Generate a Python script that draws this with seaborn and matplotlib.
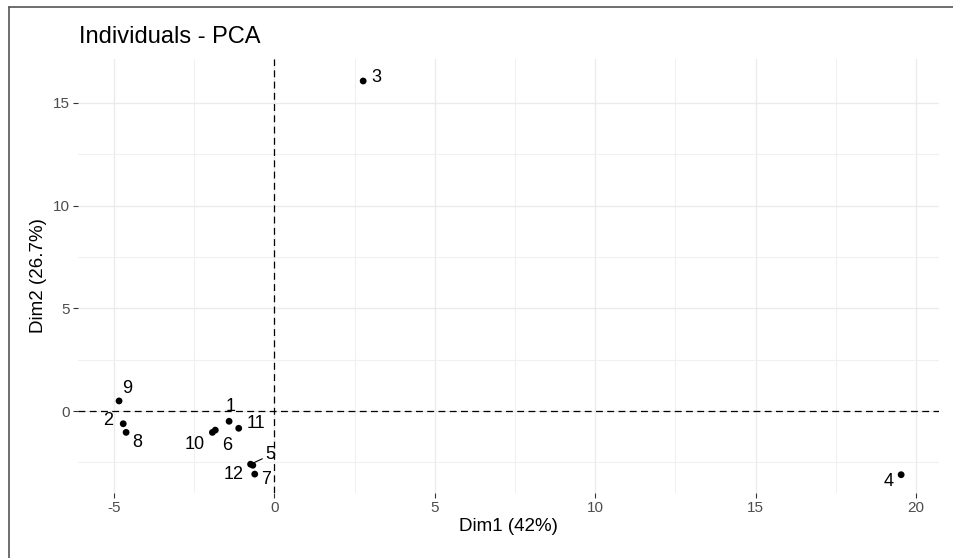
import matplotlib
matplotlib.use("Agg")
import matplotlib.pyplot as plt
from matplotlib.lines import Line2D
import seaborn as sns
import pandas as pd

labels = ["1", "2", "3", "4", "5", "6", "7", "8", "9", "10", "11", "12"]
dim1 = [-1.41, -4.71, 2.77, 19.54, -0.74, -1.84, -0.61, -4.62, -4.84, -1.93, -1.11, -0.67]
dim2 = [-0.50, -0.62, 16.06, -3.10, -2.59, -0.93, -3.07, -1.04, 0.49, -1.04, -0.84, -2.64]
x_ticks = [-5, 0, 5, 10, 15, 20]
y_ticks = [0, 5, 10, 15]
# label offsets in points (style only, mimic ggrepel placement)
offsets = {"1": (1.2, 11), "2": (-10.8, 2), "3": (9.8, 2.4), "4": (-9, -5), "5": (14.4, 6.7),
           "6": (8.6, -10.8), "7": (8, -4), "8": (7.7, -7.4), "9": (6.2, 9.1), "10": (-13, -8.6),
           "11": (12.5, 3.6), "12": (-14, -6.5)}

df = pd.DataFrame({"Dim1": dim1, "Dim2": dim2, "label": labels})

sns.set_theme(style="whitegrid")
plt.rcParams['font.family'] = ['Liberation Sans', 'DejaVu Sans']
plt.rcParams['axes.unicode_minus'] = False

fig = plt.figure(figsize=(9.54, 5.58), dpi=100)
ax = fig.add_axes([78 / 954, 65 / 558, (939 - 78) / 954, (493 - 59) / 558])

sns.scatterplot(data=df, x="Dim1", y="Dim2", ax=ax, color="black", s=24, edgecolor="none", zorder=3)

for lab, x, y in zip(labels, dim1, dim2):
    dx, dy = offsets[lab]
    arrow = None
    if lab == "5":
        arrow = dict(arrowstyle="-", color="black", lw=0.8, shrinkA=0, shrinkB=2)
    ax.annotate(lab, (x, y), xytext=(dx, dy), textcoords="offset points",
                ha="center", va="center", fontsize=13, color="black", arrowprops=arrow, zorder=4)

ax.axhline(0, color="black", ls=(0, (5.5, 3.5)), lw=0.9, zorder=2)
ax.axvline(0, color="black", ls=(0, (5.5, 3.5)), lw=0.9, zorder=2)

ax.set_xlim(-6.12, 20.72)
ax.set_ylim(-3.99, 17.13)
ax.set_xticks(x_ticks)
ax.set_yticks(y_ticks)
ax.set_xticks([-2.5, 2.5, 7.5, 12.5, 17.5], minor=True)
ax.set_yticks([-2.5, 2.5, 7.5, 12.5], minor=True)
ax.grid(which="major", color="#EBEBEB", lw=1.0)
ax.grid(which="minor", color="#F0F0F0", lw=0.8)
ax.set_axisbelow(True)
for s in ax.spines.values():
    s.set_visible(False)
ax.set_facecolor("white")
ax.tick_params(axis="both", which="major", labelsize=11, labelcolor="#4D4D4D",
               length=3.5, width=0.8, color="#333333", bottom=True, left=True, pad=2.5)
ax.tick_params(axis="both", which="minor", length=0)

ax.set_xlabel("Dim1 (42%)", fontsize=13.5, color="black", labelpad=2)
ax.set_ylabel("Dim2 (26.7%)", fontsize=13.5, color="black", labelpad=4)
fig.text(79 / 954, 1 - 43 / 558, "Individuals - PCA", fontsize=17, color="black",
         ha="left", va="baseline")

# window-like frame at top and left edges
fig.add_artist(Line2D([9.5 / 954, 1.0], [1 - 6.5 / 558, 1 - 6.5 / 558], transform=fig.transFigure,
                      color="#555555", lw=1.2))
fig.add_artist(Line2D([9.5 / 954, 9.5 / 954], [0, 1 - 6.5 / 558], transform=fig.transFigure,
                      color="#555555", lw=1.2))

fig.savefig("out.png", dpi=100)
